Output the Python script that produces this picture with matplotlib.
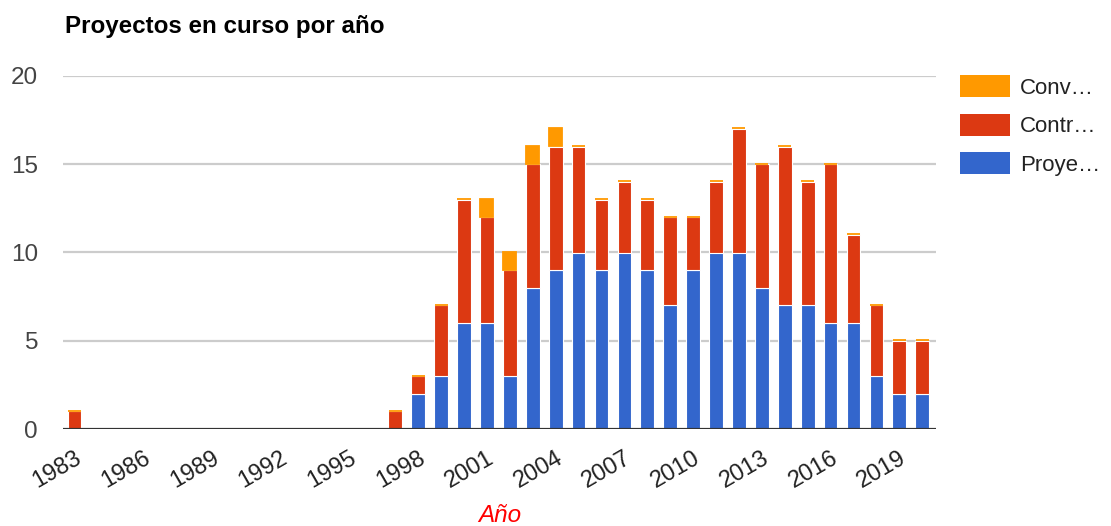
import numpy as np
import matplotlib
matplotlib.use('Agg')
import matplotlib.pyplot as plt
from matplotlib.patches import Patch

plt.rcParams['font.family'] = ['Liberation Sans', 'DejaVu Sans']

# data
years = [1983, 1997, 1998, 1999, 2000, 2001, 2002, 2003, 2004, 2005, 2006, 2007,
         2008, 2009, 2010, 2011, 2012, 2013, 2014, 2015, 2016, 2017, 2018, 2019, 2020]
proyectos = [0, 0, 2, 3, 6, 6, 3, 8, 9, 10, 9, 10, 9, 7, 9, 10, 10, 8, 7, 7, 6, 6, 3, 2, 2]
contratos = [1, 1, 1, 4, 7, 6, 6, 7, 7, 6, 4, 4, 4, 5, 3, 4, 7, 7, 9, 7, 9, 5, 4, 3, 3]
convenios = [0, 0, 0, 0, 0, 1, 1, 1, 1, 0, 0, 0, 0, 0, 0, 0, 0, 0, 0, 0, 0, 0, 0, 0, 0]
series_labels = ['Proye\u2026', 'Contr\u2026', 'Conv\u2026']
tick_years = list(range(1983, 2020, 3))

blue = '#3366cc'
red = '#dc3912'
orange = '#ff9900'

fig = plt.figure(figsize=(11.11, 5.26), dpi=100)
ax = fig.add_axes([63/1111, 1 - 429/526, (936 - 63)/1111, (429 - 76)/526])

x = np.array(years)
p = np.array(proyectos)
c = np.array(contratos)
v = np.array(convenios)
w = 0.6

ax.bar(x, p, w, color=blue, edgecolor='white', linewidth=0.8, zorder=2)
ax.bar(x, c, w, bottom=p, color=red, edgecolor='white', linewidth=0.8, zorder=2)
ax.bar(x, v, w - 0.03, bottom=p + c + 0.03, color=orange, edgecolor=orange,
       linewidth=1.3, zorder=2)

ax.set_xlim(1982.5, 2020.6)
ax.set_ylim(0, 20)
ax.set_yticks([0, 5, 10, 15, 20])
ax.set_xticks(tick_years)
ax.set_xticklabels([str(t) for t in tick_years], rotation=30, ha='right',
                   rotation_mode='anchor', fontsize=17, color='#222222')
ax.tick_params(axis='x', length=0, pad=13)
ax.tick_params(axis='y', length=0, pad=18, labelsize=17.5, labelcolor='#444444')
for s in ax.spines.values():
    s.set_visible(False)
for g in [5, 10, 15, 20]:
    ax.axhline(g, color='#cccccc', linewidth=1.6, zorder=1)
ax.axhline(0, color='#333333', linewidth=2.3, zorder=3)

fig.text(65/1111, 1 - 33/526, 'Proyectos en curso por a\u00f1o', fontsize=17.4,
         fontweight='bold', color='black', va='baseline')
fig.text(500/1111, 1 - 522/526, 'A\u00f1o', fontsize=17.5, style='italic',
         color='red', ha='center', va='baseline')

handles = [Patch(facecolor=orange), Patch(facecolor=red), Patch(facecolor=blue)]
ax.legend(handles, series_labels[::-1], loc='upper left',
          bbox_to_anchor=(960/1111, 1 - 75/526), bbox_transform=fig.transFigure,
          frameon=False, borderaxespad=0, borderpad=0, fontsize=16,
          handlelength=2.25, handleheight=1.15, handletextpad=0.45,
          labelspacing=0.68, labelcolor='#222222')

plt.savefig('out.png', dpi=100)
